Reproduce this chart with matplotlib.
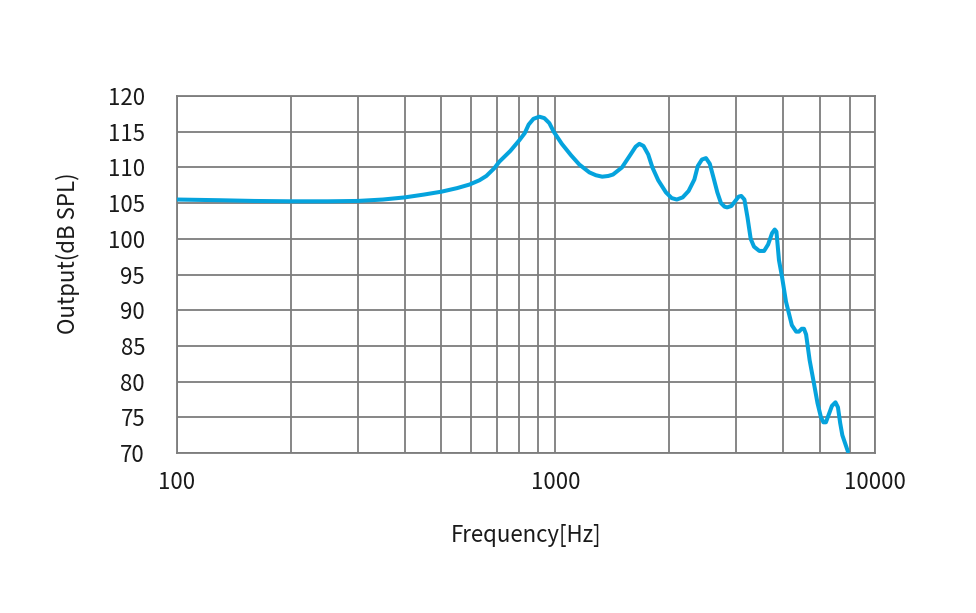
import matplotlib
matplotlib.use('Agg')
import matplotlib.pyplot as plt
from matplotlib.ticker import FixedLocator, NullFormatter

plt.rcParams['font.family'] = ['Noto Sans CJK SC', 'DejaVu Sans']

# 频响曲线
freq_hz = [100, 130, 160, 200, 250, 300, 350, 400, 450, 500, 550, 593, 630, 657,
           690, 711, 760, 803, 830, 850, 875, 907, 935, 964, 990, 1040, 1100, 1157,
           1230, 1280, 1330, 1380, 1420, 1500, 1580, 1630, 1667, 1710, 1760, 1805, 1870, 1960,
           2030, 2094, 2170, 2250, 2330, 2380, 2440, 2501, 2560, 2620, 2680, 2740,
           2800, 2845, 2920, 2990, 3050, 3100, 3160, 3220, 3283, 3350, 3460, 3562,
           3650, 3740, 3800, 3840, 3870, 3900, 3972, 4070, 4218, 4330, 4402, 4480,
           4541, 4600, 4700, 4823, 4930, 5030, 5110, 5189, 5290, 5383, 5500, 5584,
           5660, 5735, 5934]
spl_db = [105.5, 105.4, 105.3, 105.25, 105.25, 105.3, 105.5, 105.8, 106.2, 106.6, 107.1, 107.6, 108.2, 108.8,
          109.9, 110.8, 112.3, 113.8, 114.8, 116.0, 116.8, 117.1, 116.9, 116.2, 115.0, 113.3, 111.7, 110.4,
          109.3, 108.9, 108.7, 108.8, 109.0, 110.0, 111.8, 112.9, 113.3, 113.0, 111.8, 110.0, 108.2, 106.5,
          105.7, 105.5, 105.8, 106.7, 108.3, 110.2, 111.1, 111.3, 110.5, 108.5, 106.5, 105.0,
          104.5, 104.4, 104.6, 105.3, 105.9, 106.0, 105.5, 103.0, 100.0, 98.9, 98.3, 98.3,
          99.2, 100.8, 101.3, 101.0, 99.0, 97.0, 94.7, 91.2, 87.9, 87.0, 87.0, 87.4,
          87.4, 86.6, 83.0, 79.8, 77.0, 75.1, 74.3, 74.3, 75.5, 76.6, 77.1, 76.4,
          74.2, 72.5, 70.2]

y_ticks = [70, 75, 80, 85, 90, 95, 100, 105, 110, 115, 120]
x_grid = [200, 300, 400, 500, 600, 700, 800, 900, 1000,
          2000, 3000, 4000, 5000, 6000]
x_ticks = [100, 1000, 7000]
x_tick_labels = ['100', '1000', '10000']

fig = plt.figure(figsize=(9.76, 6.13), dpi=100)
ax = fig.add_axes([0.1814, 0.2610, 0.7152, 0.5824])

ax.plot(freq_hz, spl_db, color='#05a3dd', linewidth=2.9,
        solid_capstyle='round', solid_joinstyle='round', zorder=3)

ax.set_xscale('log')
ax.set_xlim(100, 7000)
ax.set_ylim(70, 120)

ax.set_xticks(x_ticks)
ax.set_xticklabels(x_tick_labels)
ax.xaxis.set_minor_locator(FixedLocator(x_grid))
ax.xaxis.set_minor_formatter(NullFormatter())
ax.set_yticks(y_ticks)

grid_col = '#7d7d7d'
ax.grid(True, which='both', axis='x', color=grid_col, linewidth=1.3)
ax.grid(True, which='major', axis='y', color=grid_col, linewidth=1.3)
for s in ax.spines.values():
    s.set_color(grid_col)
    s.set_linewidth(1.3)

ax.tick_params(axis='both', which='both', length=0, labelsize=16, labelcolor='#1a1a1a')
ax.tick_params(axis='x', pad=13)
ax.tick_params(axis='y', pad=23)

ax.set_xlabel('Frequency[Hz]', fontsize=16, color='#1a1a1a', va='center')
ax.xaxis.set_label_coords(0.5, -0.23)
ax.set_ylabel('Output(dB SPL)', fontsize=16, color='#1a1a1a', va='center')
ax.yaxis.set_label_coords(-0.156, 0.56)

fig.savefig('out.png', dpi=100, facecolor='white')
